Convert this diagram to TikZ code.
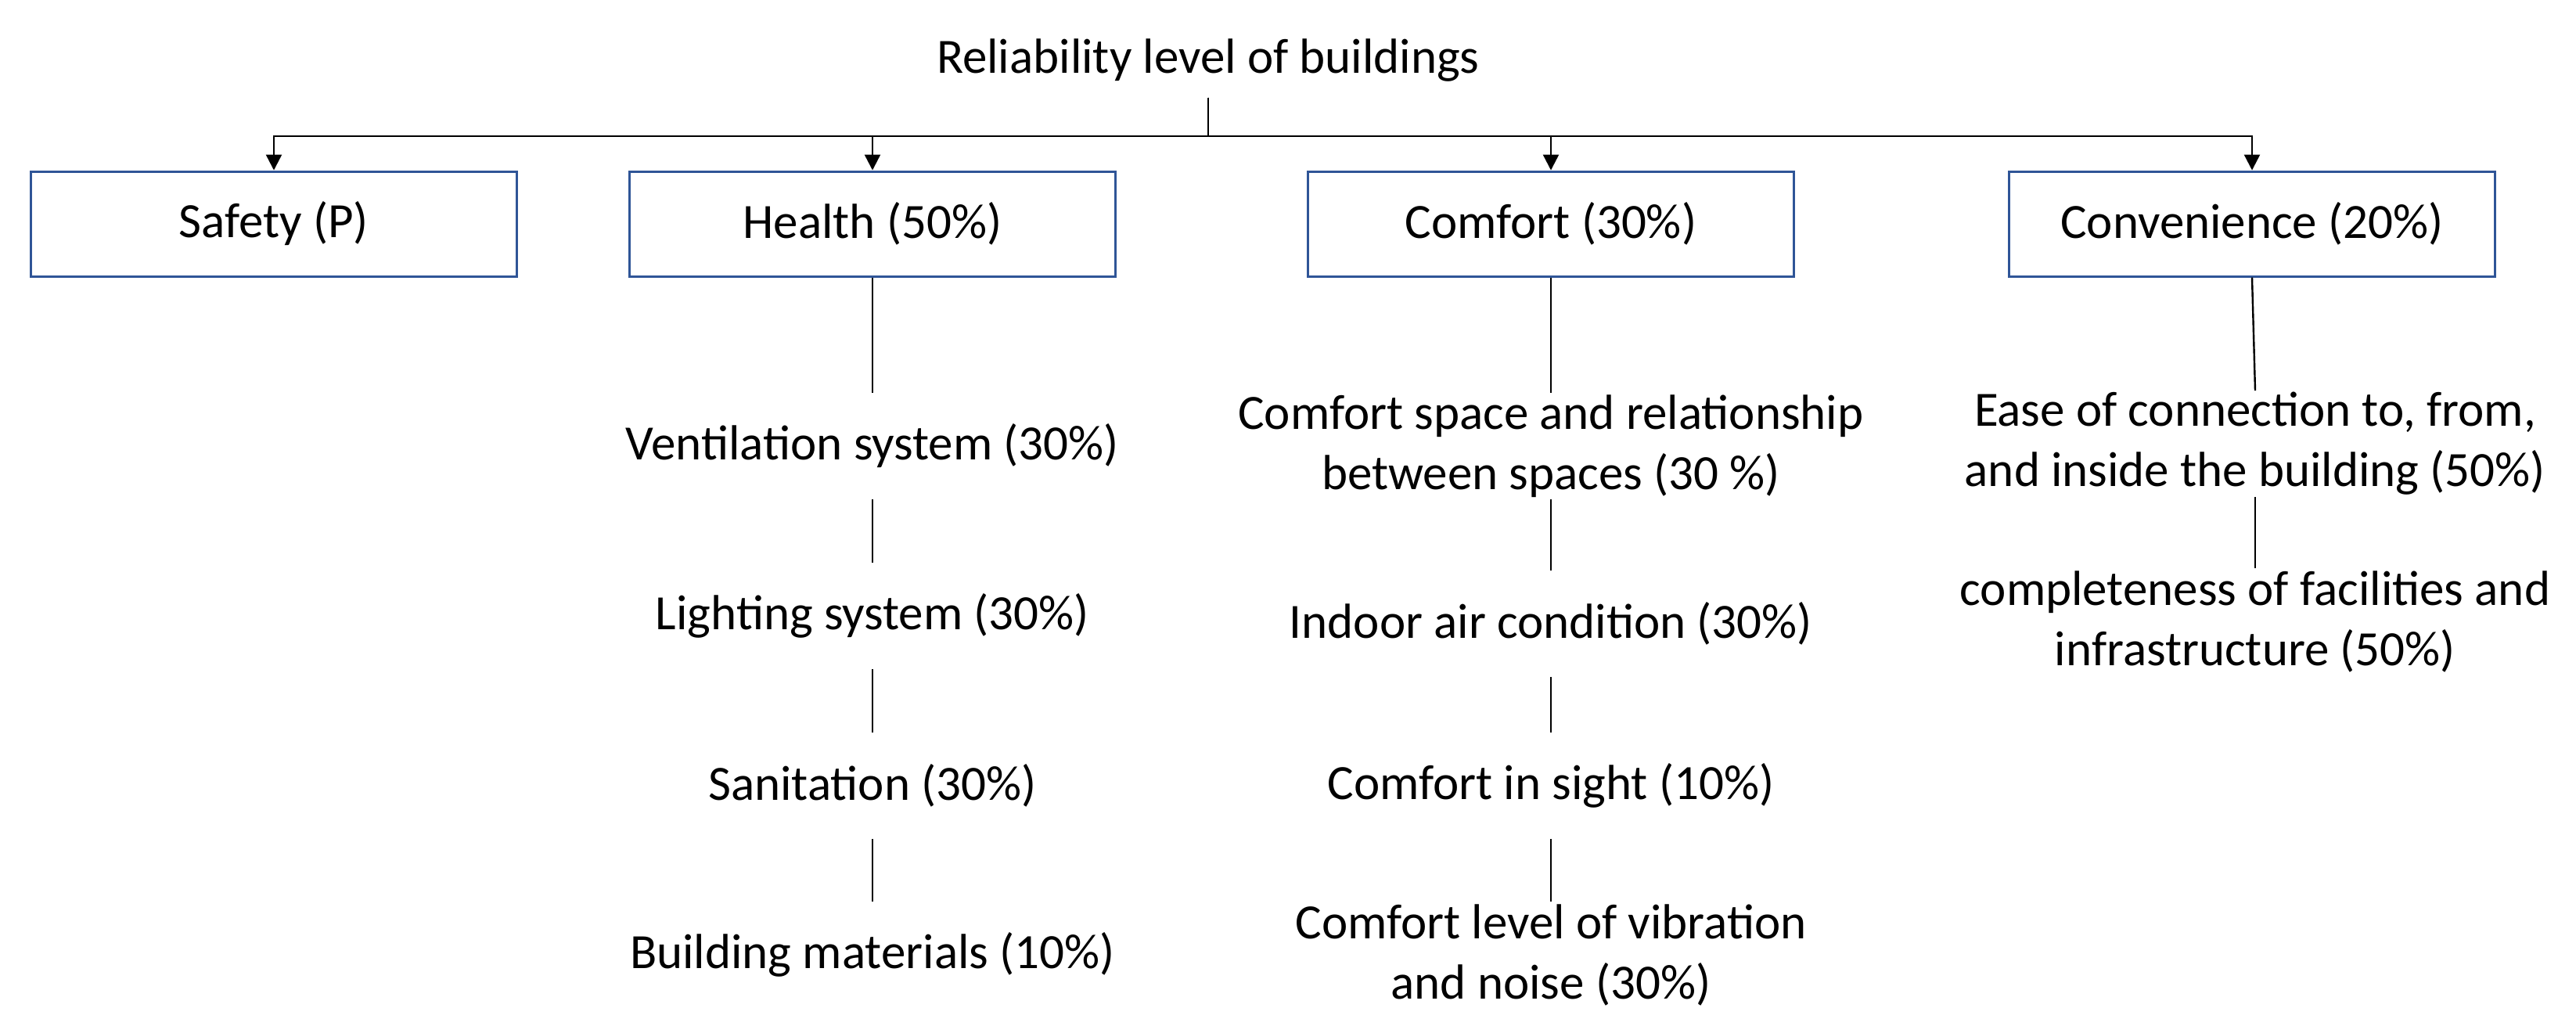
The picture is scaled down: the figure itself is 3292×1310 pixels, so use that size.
\documentclass[tikz,border=0pt]{standalone}
\usepackage{fontspec}
\setmainfont{Carlito}
\usetikzlibrary{arrows.meta}
\definecolor{boxblue}{RGB}{47,85,151}
\begin{document}
\begin{tikzpicture}[x=0.25pt,y=-0.25pt,
  every node/.style={font=\fontsize{15.75pt}{19.25pt}\selectfont},
  catbox/.style={draw=boxblue, line width=0.75pt, minimum width=155.25pt, minimum height=33.5pt, inner sep=0pt},
  item/.style={minimum height=33.5pt, inner sep=0pt, align=center},
  link/.style={draw=black, line width=0.6pt},
  arr/.style={link, -{Triangle[length=5pt,width=5pt]}}]
\useasboundingbox (0,0) rectangle (3292,1310);

\node[anchor=base, inner sep=5pt] (title) at (1544,93) {Reliability level of buildings};
\coordinate (bar) at (1544,174);

\node[catbox] (safety) at (350,286) {Safety (P)};
\node[catbox] (health) at (1115,286) {Health (50\%)};
\node[catbox] (comfort) at (1982,286) {Comfort (30\%)};
\node[catbox] (conv) at (2878,286) {Convenience (20\%)};

\node[item] (h1) at (1115,570) {Ventilation system (30\%)};
\node[item] (h2) at (1115,787) {Lighting system (30\%)};
\node[item] (h3) at (1115,1004) {Sanitation (30\%)};
\node[item] (h4) at (1115,1220) {Building materials (10\%)};

\node[item] (c1) at (1982,570) {Comfort space and relationship\\between spaces (30 \%)};
\node[item] (c2) at (1982,797) {Indoor air condition (30\%)};
\node[item] (c3) at (1982,1004) {Comfort in sight (10\%)};
\node[item] (c4) at (1982,1220) {Comfort level of vibration\\and noise (30\%)};

\node[item] (v1) at (2882,567) {Ease of connection to, from,\\and inside the building (50\%)};
\node[item] (v2) at (2882,794) {completeness of facilities and\\infrastructure (50\%)};

\draw[arr] (title.south) -- (bar) -| (safety.north);
\draw[arr] (title.south) -- (bar) -| (health.north);
\draw[arr] (title.south) -- (bar) -| (comfort.north);
\draw[arr] (title.south) -- (bar) -| (conv.north);

\draw[link] (health.south) -- (h1.north);
\draw[link] (h1.south) -- (h2.north);
\draw[link] (h2.south) -- (h3.north);
\draw[link] (h3.south) -- (h4.north);

\draw[link] (comfort.south) -- (c1.north);
\draw[link] (c1.south) -- (c2.north);
\draw[link] (c2.south) -- (c3.north);
\draw[link] (c3.south) -- (c4.north);

\draw[link] (conv.south) -- (v1.north);
\draw[link] (v1.south) -- (v2.north);
\end{tikzpicture}
\end{document}
